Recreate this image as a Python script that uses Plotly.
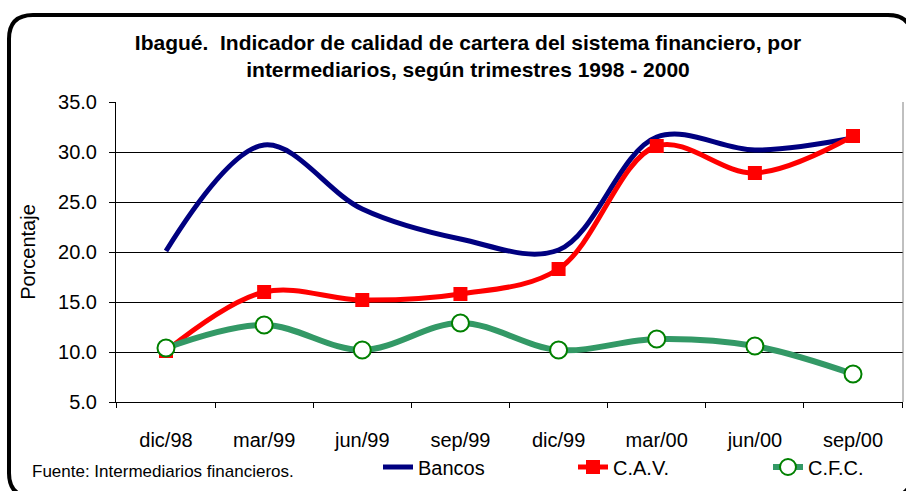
import plotly.graph_objects as go

categorias = ["dic/98", "mar/99", "jun/99", "sep/99", "dic/99", "mar/00", "jun/00", "sep/00"]
bancos = [20.1, 30.7, 24.3, 21.3, 20.2, 31.5, 30.2, 31.4]
cav = [10.1, 16.0, 15.2, 15.8, 18.3, 30.6, 27.9, 31.6]
cfc = [10.4, 12.7, 10.2, 12.9, 10.2, 11.3, 10.6, 7.8]

W, H = 906, 491
L, R, T, B = 116, 903, 102, 402

def px2paper(x, y):
    return (x - L) / (R - L), (B - y) / (B - T)

FONT = "Liberation Sans, Arial, sans-serif"

fig = go.Figure()
fig.add_trace(go.Scatter(x=categorias, y=bancos, name="Bancos", mode="lines",
                         line=dict(color="#000080", width=5, shape="spline", smoothing=1)))
fig.add_trace(go.Scatter(x=categorias, y=cav, name="C.A.V.", mode="lines+markers",
                         line=dict(color="#FF0000", width=5, shape="spline", smoothing=1),
                         marker=dict(symbol="square", size=14, color="#FF0000")))
fig.add_trace(go.Scatter(x=categorias, y=cfc, name="C.F.C.", mode="lines+markers",
                         line=dict(color="#339966", width=6, shape="spline", smoothing=1),
                         marker=dict(symbol="circle", size=17, color="white",
                                     line=dict(color="#008000", width=2))))

# rounded outer border
x0, y0, x1, y1, r = 9, 15, 912, 497, 24
def P(x, y):
    px, py = px2paper(x, y)
    return f"{px:.5f},{py:.5f}"
path = (f"M {P(x0 + r, y0)} L {P(x1 - r, y0)} Q {P(x1, y0)} {P(x1, y0 + r)} "
        f"L {P(x1, y1 - r)} Q {P(x1, y1)} {P(x1 - r, y1)} L {P(x0 + r, y1)} "
        f"Q {P(x0, y1)} {P(x0, y1 - r)} L {P(x0, y0 + r)} Q {P(x0, y0)} {P(x0 + r, y0)} Z")
fig.add_shape(type="path", path=path, xref="paper", yref="paper",
              line=dict(color="black", width=4), layer="above")

fx, fy = px2paper(30, 471)
fig.add_annotation(text="Fuente: Intermediarios financieros.", x=fx, y=fy, xref="paper", yref="paper",
                   xanchor="left", yanchor="middle", showarrow=False,
                   font=dict(family=FONT, size=17, color="black"))

lx, ly = px2paper(378, 467)
fig.update_layout(
    width=W, height=H,
    margin=dict(l=L, r=W - R, t=T, b=H - B, autoexpand=False),
    paper_bgcolor="white", plot_bgcolor="white",
    font=dict(family=FONT, size=20, color="black"),
    title=dict(text="<b>Ibagué.  Indicador de calidad de cartera del sistema financiero, por<br>intermediarios, según trimestres 1998 - 2000</b>",
               x=468 / W, xanchor="center", xref="container", y=1 - 50 / H, yanchor="middle",
               yref="container", font=dict(family=FONT, size=21, color="black")),
    showlegend=True,
    legend=dict(orientation="h", x=lx, y=ly, xanchor="left", yanchor="middle",
                font=dict(family=FONT, size=20, color="black"), entrywidth=150,
                bgcolor="rgba(0,0,0,0)", tracegroupgap=0),
)
fig.update_xaxes(type="category", showgrid=False, showline=True, linecolor="black", linewidth=1,
                 ticks="outside", ticklen=5, tickcolor="black", tickson="boundaries",
                 ticklabelstandoff=20, mirror=False, fixedrange=True)
fig.update_yaxes(range=[5, 35], dtick=5, tickformat=".1f", showgrid=True, gridcolor="black", gridwidth=1,
                 showline=True, linecolor="black", linewidth=1, ticks="outside", ticklen=6,
                 tickcolor="black", zeroline=False, ticklabelstandoff=8, fixedrange=True,
                 title=dict(text="Porcentaje", standoff=17, font=dict(family=FONT, size=20)))
# right plot border
fig.add_shape(type="line", xref="paper", yref="paper", x0=1, x1=1, y0=0, y1=1,
              line=dict(color="#808080", width=1))

fig.write_html("out.html", config={"displayModeBar": False},
               post_script="document.body.style.margin='0px';")
